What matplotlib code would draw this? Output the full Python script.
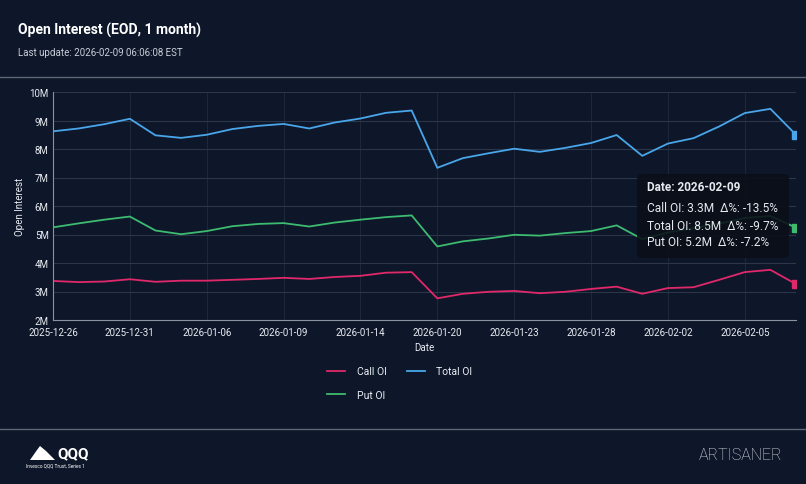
import numpy as np
import matplotlib.pyplot as plt
from matplotlib.lines import Line2D
from matplotlib.patches import FancyBboxPatch, Polygon

plt.rcParams['font.family'] = ['Roboto', 'DejaVu Sans']

# trading days shown on the x axis
dates = ['2025-12-26', '2025-12-29', '2025-12-30', '2025-12-31', '2026-01-02',
         '2026-01-05', '2026-01-06', '2026-01-07', '2026-01-08', '2026-01-09',
         '2026-01-12', '2026-01-13', '2026-01-14', '2026-01-15', '2026-01-16',
         '2026-01-20', '2026-01-21', '2026-01-22', '2026-01-23', '2026-01-26',
         '2026-01-27', '2026-01-28', '2026-01-29', '2026-01-30', '2026-02-02',
         '2026-02-03', '2026-02-04', '2026-02-05', '2026-02-06', '2026-02-09']

# open interest, millions of contracts
call_oi = [3.37, 3.33, 3.35, 3.43, 3.34, 3.38, 3.38, 3.41, 3.44, 3.48,
           3.44, 3.51, 3.55, 3.66, 3.68, 2.76, 2.92, 2.99, 3.02, 2.94,
           2.99, 3.09, 3.17, 2.92, 3.12, 3.15, 3.41, 3.68, 3.76, 3.26]
put_oi = [5.25, 5.39, 5.52, 5.63, 5.14, 5.01, 5.12, 5.29, 5.37, 5.40,
          5.28, 5.42, 5.52, 5.61, 5.67, 4.58, 4.76, 4.86, 4.99, 4.96,
          5.05, 5.12, 5.32, 4.84, 5.07, 5.23, 5.38, 5.58, 5.65, 5.24]
total_oi = [8.62, 8.72, 8.87, 9.06, 8.48, 8.39, 8.50, 8.70, 8.81, 8.88,
            8.72, 8.93, 9.07, 9.27, 9.35, 7.34, 7.68, 7.85, 8.01, 7.90,
            8.04, 8.21, 8.49, 7.76, 8.19, 8.38, 8.79, 9.26, 9.41, 8.50]

tick_idx = [0, 3, 6, 9, 12, 15, 18, 21, 24, 27]
yticks = [2, 3, 4, 5, 6, 7, 8, 9, 10]

bg = '#0e1729'
c_call = '#e0286a'
c_put = '#3dbb70'
c_total = '#49a6ea'
txt = '#e8ecf2'

fig = plt.figure(figsize=(8.06, 4.85), dpi=100, facecolor=bg)

fig.text(18 / 806, 1 - 30 / 485, 'Open Interest (EOD, 1 month)', color='white',
         fontsize=10, fontweight='bold', va='center', ha='left')
fig.text(18 / 806, 1 - 53 / 485, 'Last update: 2026-02-09 06:06:08 EST', color='#c9cfd8',
         fontsize=7, va='center', ha='left')
fig.add_artist(Line2D([0, 1], [1 - 78 / 485, 1 - 78 / 485], color='#5d6775', lw=1))
fig.add_artist(Line2D([0, 1], [1 - 430 / 485, 1 - 430 / 485], color='#5d6775', lw=1))

ax = fig.add_axes([53 / 806, 1 - 321 / 485, 743 / 806, 228 / 485], facecolor=bg)
x = np.arange(len(dates))
ax.plot(x, call_oi, color=c_call, lw=1.3, label='Call OI')
ax.plot(x, put_oi, color=c_put, lw=1.3, label='Put OI')
ax.plot(x, total_oi, color=c_total, lw=1.3, label='Total OI')
for s, c in [(call_oi, c_call), (put_oi, c_put), (total_oi, c_total)]:
    ax.plot(x[-1], s[-1], marker='s', ms=6, color=c, zorder=5)

ax.set_xlim(0, len(dates) - 1)
ax.set_ylim(2, 10)
ax.set_xticks(tick_idx)
ax.set_xticklabels([dates[i] for i in tick_idx])
ax.set_yticks(yticks)
ax.set_yticklabels([f'{v}M' for v in yticks])
ax.tick_params(colors=txt, labelsize=7, length=0)
ax.tick_params(axis='x', pad=5)
ax.tick_params(axis='y', pad=3)
ax.grid(True, axis='y', color='#2b3649', lw=0.8)
ax.grid(True, axis='x', color='#1d2839', lw=0.8)
ax.set_axisbelow(True)
for sp in ['top', 'right']:
    ax.spines[sp].set_visible(False)
for sp in ['left', 'bottom']:
    ax.spines[sp].set_color('#8a93a0')
ax.set_xlabel('Date', color=txt, fontsize=7, labelpad=4)
ax.set_ylabel('Open Interest', color=txt, fontsize=7, labelpad=3)

leg = fig.legend(handles=ax.get_lines()[:3], loc='center', ncol=2,
                 bbox_to_anchor=(400 / 806, 1 - 384 / 485), frameon=False,
                 fontsize=7.5, labelcolor=txt, handlelength=1.7, columnspacing=2.0,
                 labelspacing=1.3, handletextpad=1.1)

# tooltip box at the last date
tip = FancyBboxPatch((637 / 806, 1 - 259 / 485), 152 / 806, 84 / 485,
                     boxstyle='round,pad=0,rounding_size=0.008', transform=fig.transFigure,
                     facecolor='#0a0e17', edgecolor='none', alpha=0.88, zorder=10)
fig.add_artist(tip)
fig.text(647 / 806, 1 - 188 / 485, 'Date: 2026-02-09', color='#e6e9ee', fontsize=8.5,
         fontweight='bold', va='center', zorder=11)
tip_lines = ['Call OI: 3.3M  Δ%: -13.5%', 'Total OI: 8.5M  Δ%: -9.7%', 'Put OI: 5.2M  Δ%: -7.2%']
for k, line in enumerate(tip_lines):
    fig.text(647 / 806, 1 - (209 + 17 * k) / 485, line, color='#e6e9ee', fontsize=8.6,
             va='center', zorder=11)

# footer: fund mark and brand
fig.add_artist(Polygon([[30 / 806, 1 - 461 / 485], [37 / 806, 1 - 451 / 485],
                        [40 / 806, 1 - 447 / 485], [46 / 806, 1 - 452 / 485],
                        [55 / 806, 1 - 461 / 485]],
                       closed=True, transform=fig.transFigure, facecolor='white', edgecolor='none'))
fig.text(57 / 806, 1 - 454 / 485, 'QQQ', color='white', fontsize=11, fontweight='bold',
         va='center', ha='left')
fig.text(26 / 806, 1 - 466 / 485, 'Invesco QQQ Trust, Series 1', color='white', fontsize=3.4,
         va='center', ha='left')
fig.text(740 / 806, 1 - 456 / 485, 'ARTISANER', color='#dde1e6', fontsize=11.5,
         fontweight='light', va='center', ha='center')

fig.savefig('out.png', dpi=100, facecolor=bg)
